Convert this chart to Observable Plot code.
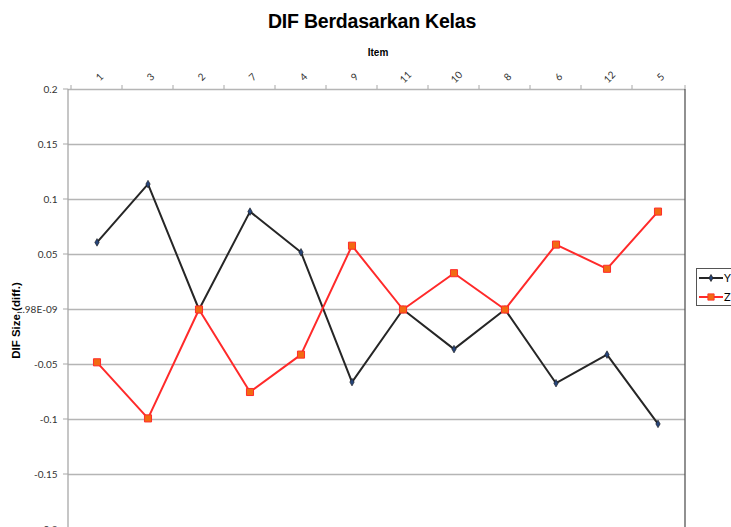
<!DOCTYPE html>
<html>
<head>
<meta charset="utf-8">
<script src="https://cdn.jsdelivr.net/npm/d3@7"></script>
<script src="https://cdn.jsdelivr.net/npm/@observablehq/plot@0.6"></script>
<style>
  html, body { margin: 0; padding: 0; background: #fff; }
  #wrap { position: relative; width: 731px; height: 527px; overflow: hidden; }
  #title { position: absolute; left: 0; top: 10px; width: 744px; text-align: center;
    font: bold 19.5px "Liberation Sans", Arial, sans-serif; color: #000; letter-spacing: -0.2px; }
  #xlabel { position: absolute; left: 0; top: 47px; width: 756px; text-align: center;
    font: bold 10px "Liberation Sans", Arial, sans-serif; color: #000; }
  #chart { position: absolute; left: 0; top: 0; }
  #legend { position: absolute; left: 696px; top: 268px; width: 60px; height: 38px;
    border: 1px solid #555; background: #fff; box-sizing: border-box; }
</style>
</head>
<body>
<div id="wrap">
  <div id="chart"></div>
  <div id="title">DIF Berdasarkan Kelas</div>
  <div id="xlabel">Item</div>
  <div id="legend"></div>
</div>
<script>
const items = ["1", "3", "2", "7", "4", "9", "11", "10", "8", "6", "12", "5"];
const seriesY = [0.061, 0.114, 0, 0.089, 0.052, -0.066, 0, -0.036, 0, -0.067, -0.041, -0.104];
const seriesZ = [-0.048, -0.099, 0, -0.075, -0.041, 0.058, 0, 0.033, 0, 0.059, 0.037, 0.089];
const yTicks = [0.2, 0.15, 0.1, 0.05, 0, -0.05, -0.1, -0.15, -0.2];
const yTickLabels = ["0.2", "0.15", "0.1", "0.05", "-2.98E-09", "-0.05", "-0.1", "-0.15", "-0.2"];
const seriesNames = ["Y", "Z"];

const dataY = items.map((it, i) => ({item: it, v: seriesY[i], s: "Y"}));
const dataZ = items.map((it, i) => ({item: it, v: seriesZ[i], s: "Z"}));

const lblFont = "Lato, 'Open Sans', sans-serif";

const plot = Plot.plot({
  width: 731,
  height: 527,
  marginLeft: 68,
  marginRight: 46,
  marginTop: 89,
  marginBottom: -2,
  style: {fontFamily: lblFont, fontSize: "10px", color: "#333", background: "transparent", overflow: "visible"},
  x: {type: "band", domain: items, padding: 0, axis: null},
  y: {domain: [-0.2, 0.2], axis: null},
  marks: [
    Plot.ruleY(yTicks, {stroke: "#b5b5b5", strokeWidth: 1.3}),
    Plot.ruleX([items[0]], {x: d => d, stroke: "#ababab", strokeWidth: 1.3, render: (index, scales, values, dims) => {
      const g = d3.create("svg:g");
      const x0 = dims.marginLeft, x1 = dims.width - dims.marginRight;
      g.append("line").attr("x1", x0).attr("x2", x0).attr("y1", dims.marginTop).attr("y2", dims.height - dims.marginBottom)
        .attr("stroke", "#a8a8a8").attr("stroke-width", 1.3);
      g.append("line").attr("x1", x1).attr("x2", x1).attr("y1", dims.marginTop).attr("y2", dims.height - dims.marginBottom)
        .attr("stroke", "#555").attr("stroke-width", 1.3);
      items.forEach(it => {
        const bx = scales.x(it);
        g.append("line").attr("x1", bx).attr("x2", bx).attr("y1", dims.marginTop - 4).attr("y2", dims.marginTop)
          .attr("stroke", "#a8a8a8").attr("stroke-width", 1);
      });
      g.append("line").attr("x1", x1).attr("x2", x1).attr("y1", dims.marginTop - 4).attr("y2", dims.marginTop)
        .attr("stroke", "#a8a8a8").attr("stroke-width", 1);
      yTicks.forEach(t => {
        g.append("line").attr("x1", x0 - 5).attr("x2", x0).attr("y1", scales.y(t)).attr("y2", scales.y(t))
          .attr("stroke", "#a8a8a8").attr("stroke-width", 1);
      });
      return g.node();
    }}),
    Plot.text(yTicks, {y: d => d, text: (d, i) => yTickLabels[i], frameAnchor: "left", dx: -11, textAnchor: "end", fill: "#333", fontSize: 10}),
    Plot.text(items, {x: d => d, frameAnchor: "top", dy: -15, rotate: -45, textAnchor: "middle", fill: "#333", fontSize: 10}),
    Plot.text(["DIF Size (diff.)"], {frameAnchor: "left", textAnchor: "middle", dx: -52, dy: 11, rotate: -90, fontWeight: "bold", fontSize: 11.5, fill: "#000",
      stroke: "#fff", strokeWidth: 3, fontFamily: "'Liberation Sans', sans-serif"}),
    Plot.line(dataY, {x: "item", y: "v", stroke: "#262626", strokeWidth: 2}),
    Plot.dot(dataY, {x: "item", y: "v", symbol: "diamond", r: 2.3, fill: "#27457a", stroke: "#1a1a1a", strokeWidth: 0.6}),
    Plot.line(dataZ, {x: "item", y: "v", stroke: "#ff2a2a", strokeWidth: 2}),
    Plot.dot(dataZ, {x: "item", y: "v", symbol: "square", r: 4, fill: "#f26a12", stroke: "#ff2a2a", strokeWidth: 1})
  ]
});
document.getElementById("chart").appendChild(plot);

const leg = d3.select("#legend").append("svg").attr("width", 60).attr("height", 38).style("display", "block");
const legStyles = [
  {stroke: "#262626", fill: "#27457a", sym: d3.symbolDiamond, size: 14},
  {stroke: "#ff2a2a", fill: "#f26a12", sym: d3.symbolSquare, size: 40}
];
seriesNames.forEach((name, i) => {
  const yy = 9 + i * 19;
  const st = legStyles[i];
  leg.append("line").attr("x1", 2).attr("x2", 26).attr("y1", yy).attr("y2", yy).attr("stroke", st.stroke).attr("stroke-width", 2);
  leg.append("path").attr("d", d3.symbol(st.sym, st.size)()).attr("transform", `translate(14,${yy})`)
    .attr("fill", st.fill).attr("stroke", st.stroke).attr("stroke-width", 0.8);
  leg.append("text").attr("x", 27).attr("y", yy).attr("dy", "0.35em").attr("font-size", 11)
    .attr("font-family", lblFont).attr("fill", "#000").text(name);
});
</script>
</body>
</html>
